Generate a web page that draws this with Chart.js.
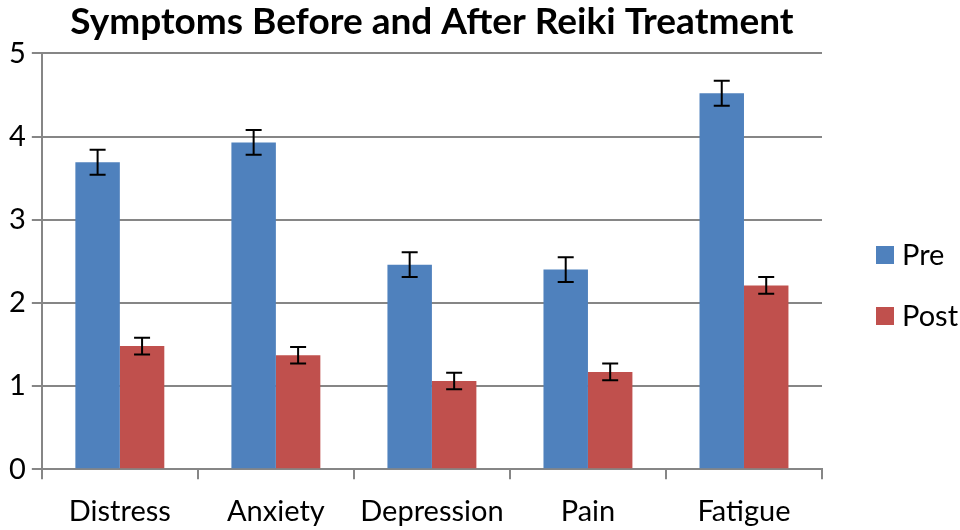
<!DOCTYPE html>
<html>
<head>
<meta charset="utf-8">
<script src="https://cdn.jsdelivr.net/npm/chart.js@4/dist/chart.umd.min.js"></script>
<style>
    html, body { margin: 0; padding: 0; background: #fff; }
    #wrap { width: 960px; height: 530px; }
</style>
</head>
<body>
<div id="wrap"><canvas id="reikiChart" width="960" height="530"></canvas></div>
<script>
// data
const categories = ['Distress', 'Anxiety', 'Depression', 'Pain', 'Fatigue'];
const preValues = [3.69, 3.93, 2.46, 2.40, 4.52];
const preErrors = [0.15, 0.15, 0.15, 0.15, 0.15];
const postValues = [1.48, 1.37, 1.06, 1.17, 2.21];
const postErrors = [0.10, 0.10, 0.10, 0.10, 0.10];
const yTicks = [0, 1, 2, 3, 4, 5];

const FONT = 'Lato, "Open Sans", sans-serif';
const GRID = '#868686';

// error bars, drawn through the y scale
const errorBars = {
    id: 'errorBars',
    afterDatasetsDraw(chart) {
        const ctx = chart.ctx;
        const y = chart.scales.y;
        ctx.save();
        ctx.strokeStyle = '#000';
        ctx.lineWidth = 2;
        chart.data.datasets.forEach((ds, i) => {
            const meta = chart.getDatasetMeta(i);
            meta.data.forEach((bar, j) => {
                const v = ds.data[j];
                const e = ds.errors[j];
                const top = y.getPixelForValue(v + e);
                const bot = y.getPixelForValue(v - e);
                const x = bar.x;
                ctx.beginPath();
                ctx.moveTo(x, top); ctx.lineTo(x, bot);
                ctx.moveTo(x - 8, top); ctx.lineTo(x + 8, top);
                ctx.moveTo(x - 8, bot); ctx.lineTo(x + 8, bot);
                ctx.stroke();
            });
        });
        ctx.restore();
    }
};

// legend on the right, like the original
const sideLegend = {
    id: 'sideLegend',
    afterDraw(chart) {
        const ctx = chart.ctx;
        ctx.save();
        ctx.font = '29px ' + FONT;
        ctx.textBaseline = 'middle';
        chart.data.datasets.forEach((ds, i) => {
            const cy = 255 + i * 61;
            ctx.fillStyle = ds.backgroundColor;
            ctx.fillRect(876, cy - 9, 18, 18);
            ctx.fillStyle = '#000';
            ctx.fillText(ds.label, 902, cy + 1);
        });
        ctx.restore();
    }
};

const ctx = document.getElementById('reikiChart').getContext('2d');
const reikiChart = new Chart(ctx, {
    type: 'bar',
    data: {
        labels: categories,
        datasets: [
            {
                label: 'Pre',
                data: preValues,
                errors: preErrors,
                backgroundColor: '#4F81BD'
            },
            {
                label: 'Post',
                data: postValues,
                errors: postErrors,
                backgroundColor: '#C0504D'
            }
        ]
    },
    options: {
        responsive: false,
        animation: false,
        layout: {
            padding: { left: 3, right: 138, top: 0, bottom: -14 }
        },
        datasets: {
            bar: { barPercentage: 1, categoryPercentage: 0.57 }
        },
        plugins: {
            legend: { display: false },
            tooltip: { enabled: false },
            title: {
                display: true,
                fullSize: false,
                text: 'Symptoms Before and After Reiki Treatment',
                color: '#000',
                font: { family: FONT, size: 37, weight: 'bold' },
                padding: { top: 0, bottom: 9 }
            }
        },
        scales: {
            x: {
                grid: {
                    offset: true,
                    drawOnChartArea: false,
                    drawTicks: true,
                    tickLength: 10,
                    color: GRID,
                    lineWidth: 2
                },
                border: { color: GRID, width: 2 },
                ticks: {
                    color: '#000',
                    font: { family: FONT, size: 29 },
                    padding: 15
                }
            },
            y: {
                min: 0,
                max: 5,
                afterBuildTicks(axis) {
                    axis.ticks = yTicks.map(v => ({ value: v }));
                },
                grid: {
                    color: GRID,
                    lineWidth: 2,
                    tickLength: 10
                },
                border: { color: GRID, width: 2 },
                ticks: {
                    color: '#000',
                    font: { family: FONT, size: 29 },
                    padding: 6
                }
            }
        }
    },
    plugins: [errorBars, sideLegend]
});
</script>
</body>
</html>
